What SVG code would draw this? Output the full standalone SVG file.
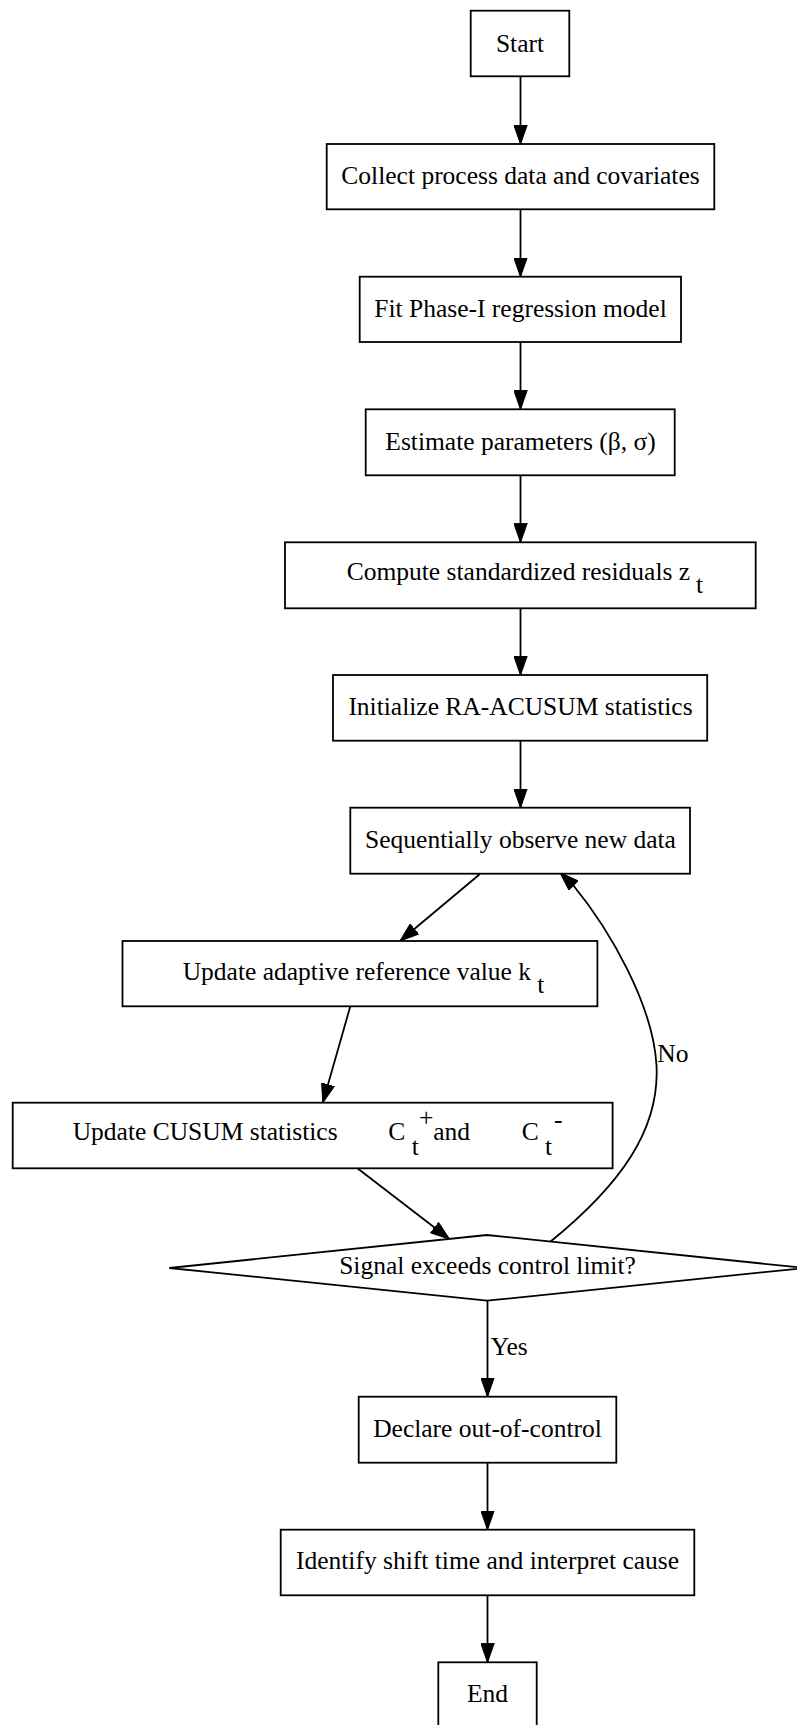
<svg xmlns="http://www.w3.org/2000/svg" width="797" height="1725" viewBox="0 0 797 1725">
<style>
.n{fill:#fff;stroke:#000;stroke-width:1.8}
.t{font-family:"Liberation Serif","Times New Roman",serif;font-size:25.5px;fill:#000}
.m{text-anchor:middle}
.e{fill:none;stroke:#000;stroke-width:1.8}
</style>
<defs>
<marker id="ah" markerUnits="userSpaceOnUse" markerWidth="19" markerHeight="14" viewBox="0 0 18.3 12.8" refX="18.3" refY="6.4" orient="auto">
<path d="M0,0 L18.3,6.4 L0,12.8 z" fill="#000" stroke="#000" stroke-width="1"/>
</marker>
</defs>
<rect width="797" height="1725" fill="#fff"/>
<g id="connectors">
<path class="e" d="M520.5,76.3 L520.5,144" marker-end="url(#ah)"/>
<path class="e" d="M520.5,209.3 L520.5,276.7" marker-end="url(#ah)"/>
<path class="e" d="M520.5,342 L520.5,409.3" marker-end="url(#ah)"/>
<path class="e" d="M520.5,475.3 L520.5,542.3" marker-end="url(#ah)"/>
<path class="e" d="M520.5,608.3 L520.5,675" marker-end="url(#ah)"/>
<path class="e" d="M520.5,740.7 L520.5,807.7" marker-end="url(#ah)"/>
<path class="e" d="M480,874 L400,941" marker-end="url(#ah)"/>
<path class="e" d="M350.3,1006.3 L322.8,1102.7" marker-end="url(#ah)"/>
<path class="e" d="M357.4,1168.3 L449.4,1239" marker-end="url(#ah)"/>
<path class="e" d="M550.6,1241.5 C620,1185 660,1130 656.5,1065 C653,1005 610,930 573.2,885.2 L560,872.7" marker-end="url(#ah)"/>
<path class="e" d="M487.5,1300.7 L487.5,1396.7" marker-end="url(#ah)"/>
<path class="e" d="M487.5,1462.7 L487.5,1529.7" marker-end="url(#ah)"/>
<path class="e" d="M487.5,1595.3 L487.5,1662.3" marker-end="url(#ah)"/>
<text class="t" x="657.3" y="1061.7">No</text>
<text class="t" x="490.7" y="1355">Yes</text>
</g>
<g id="start"><rect class="n" x="470.7" y="10.7" width="98.6" height="65.6"/><text class="t m" x="520" y="51.7">Start</text></g>
<g id="collect"><rect class="n" x="326.7" y="144" width="387.6" height="65.3"/><text class="t m" x="520.5" y="184.3">Collect process data and covariates</text></g>
<g id="fit"><rect class="n" x="359.7" y="276.7" width="321.3" height="65.3"/><text class="t m" x="520.5" y="316.7">Fit Phase-I regression model</text></g>
<g id="estimate"><rect class="n" x="365.7" y="409.3" width="309" height="66"/><text class="t m" x="520.5" y="450">Estimate parameters (β, σ)</text></g>
<g id="compute"><rect class="n" x="285" y="542.3" width="470.7" height="66"/><text class="t" x="346.7" y="580">Compute standardized residuals z</text><text class="t" x="696" y="593.3">t</text></g>
<g id="initialize"><rect class="n" x="333" y="675" width="374.2" height="65.7"/><text class="t m" x="520.5" y="715">Initialize RA-ACUSUM statistics</text></g>
<g id="observe"><rect class="n" x="350.3" y="807.7" width="339.7" height="66"/><text class="t m" x="520.5" y="848.3">Sequentially observe new data</text></g>
<g id="adaptive"><rect class="n" x="122.5" y="941" width="474.9" height="65.3"/><text class="t" x="182.7" y="979.5">Update adaptive reference value k</text><text class="t" x="537.3" y="993.3">t</text></g>
<g id="cusum"><rect class="n" x="12.7" y="1102.7" width="599.9" height="65.6"/>
<text class="t" x="72.7" y="1140">Update CUSUM statistics</text>
<text class="t" x="388.3" y="1140">C</text><text class="t" x="411.7" y="1155">t</text><text class="t" x="419" y="1126.4">+</text><text class="t" x="433.3" y="1140">and</text>
<text class="t" x="521.7" y="1140">C</text><text class="t" x="545" y="1155">t</text><text class="t" x="554" y="1127.5">-</text>
</g>
<g id="decision"><polygon class="n" points="169.3,1268 487,1235 805,1268 487,1300.7"/><text class="t m" x="487.5" y="1273.5">Signal exceeds control limit?</text></g>
<g id="declare"><rect class="n" x="358.7" y="1396.7" width="257.6" height="66"/><text class="t m" x="487.5" y="1436.7">Declare out-of-control</text></g>
<g id="identify"><rect class="n" x="280.7" y="1529.7" width="413.6" height="65.6"/><text class="t m" x="487.5" y="1569.3">Identify shift time and interpret cause</text></g>
<g id="end"><rect class="n" x="438.3" y="1662.3" width="98.4" height="66"/><text class="t m" x="487.5" y="1701.7">End</text></g>
</svg>
